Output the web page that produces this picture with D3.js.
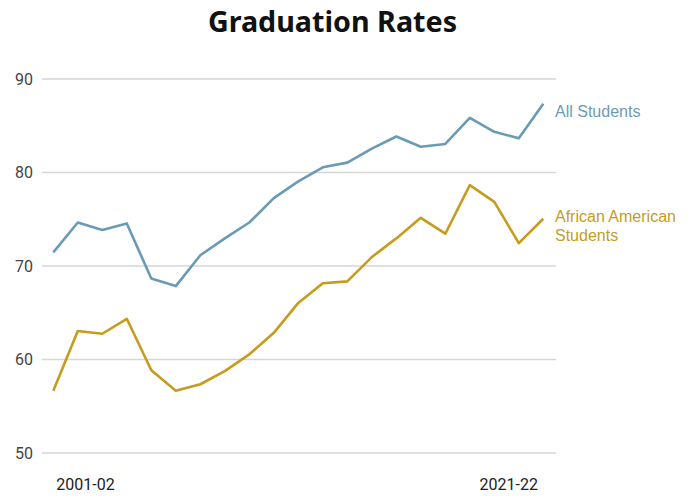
<!DOCTYPE html>
<html><head><meta charset="utf-8">
<script src="https://cdn.jsdelivr.net/npm/d3@7"></script>
<style>body{margin:0;background:#fff}</style>
</head><body><svg id="c" width="694" height="496"></svg>
<script>
const years = ["2001-02","2002-03","2003-04","2004-05","2005-06","2006-07","2007-08","2008-09","2009-10","2010-11","2011-12","2012-13","2013-14","2014-15","2015-16","2016-17","2017-18","2018-19","2019-20","2020-21","2021-22"];
const allStudents = [71.4,74.6,73.8,74.5,68.6,67.8,71.1,72.9,74.6,77.2,79.0,80.5,81.0,82.5,83.8,82.7,83.0,85.8,84.3,83.6,87.3];
const africanAmerican = [56.6,63.0,62.7,64.3,58.8,56.6,57.3,58.7,60.5,62.8,66.0,68.1,68.3,70.9,72.9,75.1,73.4,78.6,76.8,72.4,75.0];
const yTicks = [50,60,70,80,90];
const xTickLabels = ["2001-02","2021-22"];
const seriesNames = ["All Students","African American Students"];

const svg = d3.select("#c");
const x = d3.scalePoint().domain(years).range([53.3,543.3]);
const y = d3.scaleLinear().domain([50,90]).range([452.5,78.5]);

svg.append("text").attr("x",332.5).attr("y",31.5).attr("text-anchor","middle")
  .style("font-family","'Noto Sans', sans-serif").style("font-weight","bold").style("font-size","28.7px")
  .attr("fill","#111").text("Graduation Rates");

const yAxis = svg.append("g").attr("transform","translate(42,0)")
  .call(d3.axisLeft(y).tickValues(yTicks).tickSize(-514).tickFormat(d3.format("d")));
yAxis.select(".domain").remove();
yAxis.selectAll(".tick line").attr("stroke","#d6d6d6").attr("stroke-width",1.3);
yAxis.selectAll(".tick text").attr("x",-9).attr("dy","0.36em")
  .style("font-family","Roboto, sans-serif").style("font-size","16px").attr("fill","#444");

const xAxis = svg.append("g").attr("transform","translate(0,452.5)")
  .call(d3.axisBottom(x).tickValues(xTickLabels).tickSize(0));
xAxis.select(".domain").remove();
xAxis.selectAll(".tick text").attr("y",37.5).attr("dy",0)
  .style("font-family","Roboto, sans-serif").style("font-size","16px").attr("fill","#222")
  .attr("dx", (d,i)=> i===0 ? 31.7 : -35);

const line = d3.line().x((d,i)=>x(years[i])).y(d=>y(d));
const colors = ["#6a9bb5","#c59c1e"];
[allStudents, africanAmerican].forEach((s,i)=>{
  svg.append("path").datum(s).attr("d",line).attr("fill","none")
    .attr("stroke",colors[i]).attr("stroke-width",2.6).attr("stroke-linejoin","round");
});

svg.append("text").attr("x",555).attr("y",116.5).attr("fill",colors[0])
  .style("font-family","'Liberation Sans', Arial, sans-serif").style("font-size","16px").text(seriesNames[0]);
const t2 = svg.append("text").attr("x",555).attr("y",221.7).attr("fill",colors[1])
  .style("font-family","'Liberation Sans', Arial, sans-serif").style("font-size","16px");
t2.append("tspan").attr("x",555).text("African American");
t2.append("tspan").attr("x",555).attr("dy",19).text("Students");
</script></body></html>
